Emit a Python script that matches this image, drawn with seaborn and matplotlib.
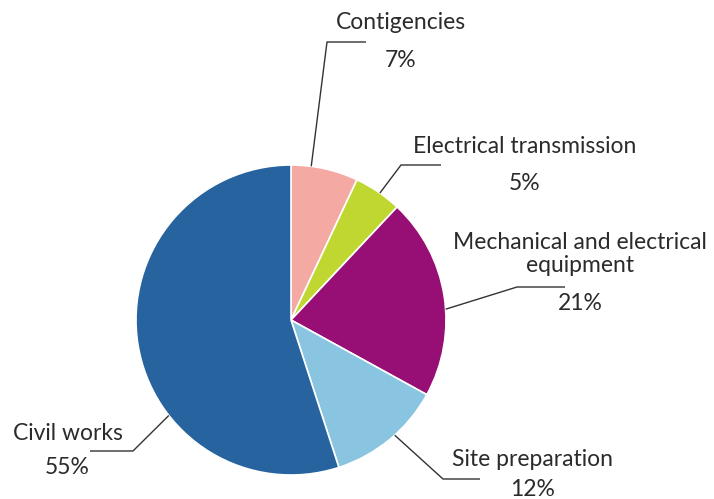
import numpy as np
import matplotlib
matplotlib.use("Agg")
import matplotlib.pyplot as plt
import seaborn as sns

# Cost breakdown shares
categories = ["Contigencies", "Electrical transmission",
              "Mechanical and electrical\nequipment", "Site preparation", "Civil works"]
shares = [7, 5, 21, 12, 55]
colors = ["#F4A9A3", "#BFD730", "#970E74", "#89C4E1", "#26639F"]

# Label layout (pixel space, y downwards): leader anchor angle (deg clockwise from top),
# elbow point, end of horizontal tick, text centre
anchor_deg = [7.5, 35, 86, 138, 232]
elbows = [(327, 42), (401, 165), (517, 287), (443, 479), (133, 451)]
tick_ends = [(366, 42), (441, 165), (565, 287), (480, 479), (90, 451)]
label_pos = [(401, 22), (525, 146), (580, 254), (533, 459), (68, 433)]
pct_pos = [(401, 60), (525, 183), (580, 303), (533, 490), (67, 467)]

sns.set_theme(style="white")
plt.rcParams["font.family"] = ["Lato", "DejaVu Sans"]

W, H = 714, 499
fig = plt.figure(figsize=(W / 100, H / 100), dpi=100)
ax = fig.add_axes([0, 0, 1, 1])

cx, cy, r = 291, H - 320, 155
ax.pie(shares, colors=colors, startangle=90, counterclock=False,
       center=(cx, cy), radius=r, frame=True,
       wedgeprops=dict(edgecolor="white", linewidth=1.2))
ax.set_xlim(0, W)
ax.set_ylim(0, H)
ax.set_aspect("equal")
ax.axis("off")

txt_color = "#2b2b2b"
for cat, val, a, el, te, lp, pp in zip(categories, shares, anchor_deg, elbows,
                                         tick_ends, label_pos, pct_pos):
    th = np.deg2rad(a)
    sx, sy = cx + r * np.sin(th), cy + r * np.cos(th)
    ax.plot([sx, el[0], te[0]], [sy, H - el[1], H - te[1]],
            color="#333333", lw=1.0, solid_capstyle="butt")
    ax.text(lp[0], H - lp[1], cat, ha="center", va="center",
            fontsize=16.5, color=txt_color, linespacing=1.15)
    ax.text(pp[0], H - pp[1], f"{val}%", ha="center", va="center",
            fontsize=16.5, color=txt_color)

fig.savefig("out.png", dpi=100)
